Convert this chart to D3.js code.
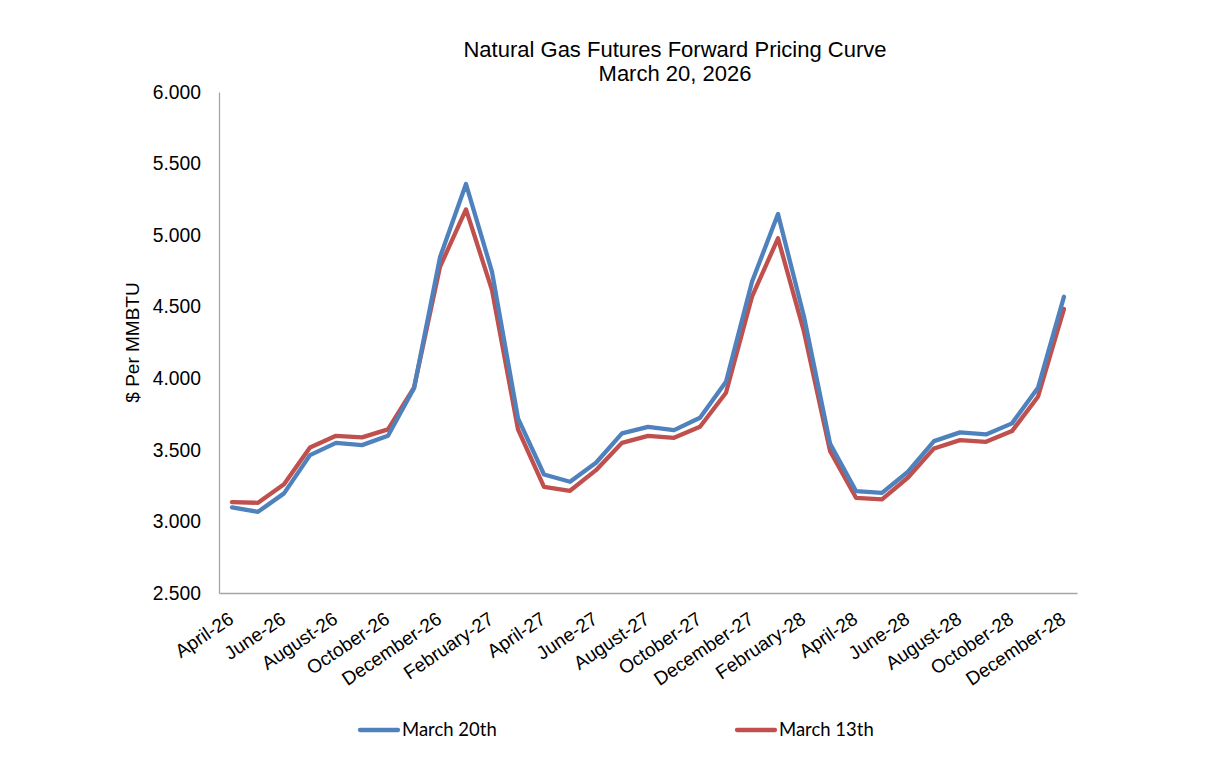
<!DOCTYPE html>
<html>
<head>
<meta charset="utf-8">
<script src="https://cdn.jsdelivr.net/npm/d3@7"></script>
<style>
  html, body { margin: 0; padding: 0; background: #fff; }
  svg text { font-family: "Liberation Sans", Arial, sans-serif; fill: #000; }
  .legend text { font-family: Lato, "Open Sans", sans-serif; }
</style>
</head>
<body>
<div id="chart"></div>
<script>
const months = [
  'April-26', 'May-26', 'June-26', 'July-26', 'August-26', 'September-26', 'October-26', 'November-26',
  'December-26', 'January-27', 'February-27', 'March-27', 'April-27', 'May-27', 'June-27', 'July-27',
  'August-27', 'September-27', 'October-27', 'November-27', 'December-27', 'January-28', 'February-28',
  'March-28', 'April-28', 'May-28', 'June-28', 'July-28', 'August-28', 'September-28', 'October-28',
  'November-28', 'December-28'
];

const march20 = [
  3.098, 3.067, 3.196, 3.463, 3.549, 3.533, 3.598, 3.930, 4.845, 5.357, 4.744,
  3.720, 3.328, 3.277, 3.410, 3.615, 3.661, 3.638, 3.724, 3.976, 4.674, 5.147,
  4.430, 3.545, 3.212, 3.200, 3.347, 3.561, 3.622, 3.608, 3.685, 3.934, 4.570
];

const march13 = [
  3.135, 3.130, 3.259, 3.517, 3.598, 3.587, 3.643, 3.934, 4.779, 5.180, 4.616,
  3.643, 3.242, 3.214, 3.358, 3.549, 3.598, 3.584, 3.661, 3.899, 4.570, 4.978,
  4.325, 3.493, 3.165, 3.154, 3.307, 3.510, 3.568, 3.556, 3.631, 3.871, 4.484
];

const yTicks = [2.5, 3.0, 3.5, 4.0, 4.5, 5.0, 5.5, 6.0];

const series = [
  { name: 'March 20th', values: march20, color: '#4F81BD' },
  { name: 'March 13th', values: march13, color: '#C0504D' }
];

const width = 1219, height = 777;
const margin = { left: 219, right: 142, top: 92, bottom: 184 };

const svg = d3.select('#chart').append('svg')
  .attr('width', width)
  .attr('height', height);

const x = d3.scaleBand()
  .domain(months)
  .range([margin.left, width - margin.right]);

const y = d3.scaleLinear()
  .domain([2.5, 6.0])
  .range([height - margin.bottom, margin.top]);

// Titre
const title = svg.append('text')
  .attr('text-anchor', 'middle')
  .attr('font-size', 22);
title.append('tspan').attr('x', 675).attr('y', 57).text('Natural Gas Futures Forward Pricing Curve');
title.append('tspan').attr('x', 675).attr('y', 81).text('March 20, 2026');

// Axe Y
const yAxis = svg.append('g')
  .attr('transform', `translate(${margin.left},0)`)
  .call(d3.axisLeft(y).tickValues(yTicks).tickSize(0).tickPadding(18).tickFormat(d3.format('.3f')));
yAxis.select('.domain').attr('stroke', '#a6a6a6').attr('stroke-width', 1.3);
yAxis.selectAll('text').attr('font-size', 19.3);

svg.append('text')
  .attr('transform', `translate(139,${(y(2.5) + y(6)) / 2}) rotate(-90)`)
  .attr('text-anchor', 'middle')
  .attr('font-size', 19)
  .text('$ Per MMBTU');

// Axe X (une étiquette sur deux)
const xAxis = svg.append('g')
  .attr('transform', `translate(0,${height - margin.bottom})`)
  .call(d3.axisBottom(x).tickSize(0).tickFormat((d, i) => i % 2 === 0 ? d : ''));
xAxis.select('.domain').attr('stroke', '#a6a6a6').attr('stroke-width', 1.3);
xAxis.selectAll('text')
  .attr('font-size', 19)
  .attr('text-anchor', 'end')
  .attr('y', 0)
  .attr('dy', 0)
  .attr('transform', 'translate(3,29) rotate(-34)');

// Courbes
const line = d3.line()
  .x((d, i) => x(months[i]) + x.bandwidth() / 2)
  .y(d => y(d));

svg.append('g').selectAll('path')
  .data(series.slice().reverse())
  .join('path')
  .attr('d', d => line(d.values))
  .attr('fill', 'none')
  .attr('stroke', d => d.color)
  .attr('stroke-width', 4.3)
  .attr('stroke-linejoin', 'round')
  .attr('stroke-linecap', 'round');

// Légende
const legendX = [360, 737];
const legend = svg.append('g').attr('class', 'legend')
  .selectAll('g')
  .data(series)
  .join('g')
  .attr('transform', (d, i) => `translate(${legendX[i]},730)`);
legend.append('line')
  .attr('x1', 0).attr('x2', 38)
  .attr('stroke', d => d.color)
  .attr('stroke-width', 4.3)
  .attr('stroke-linecap', 'round');
legend.append('text')
  .attr('x', 42)
  .attr('dy', '0.35em')
  .attr('font-size', 18.5)
  .text(d => d.name);
</script>
</body>
</html>
